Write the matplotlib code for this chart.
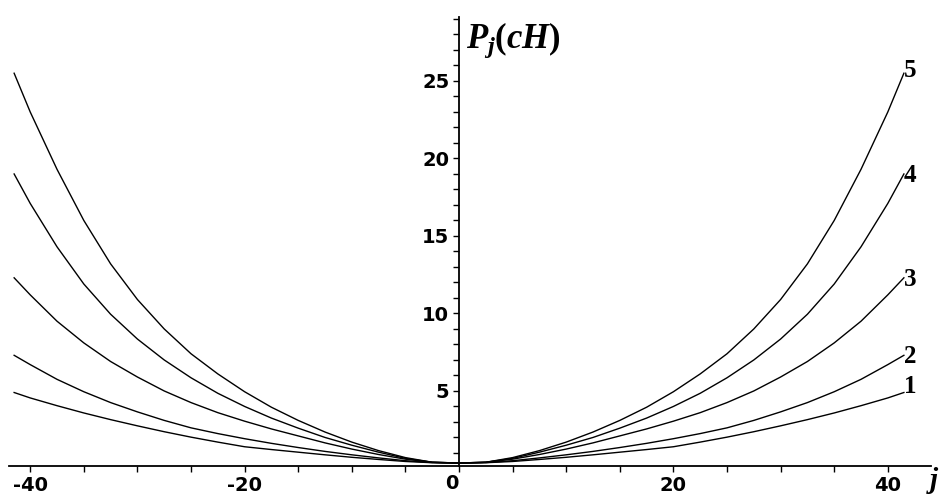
import matplotlib.pyplot as plt
import numpy as np
from matplotlib.ticker import MultipleLocator

plt.rcParams['mathtext.fontset'] = 'custom'
plt.rcParams['mathtext.it'] = 'Liberation Serif:italic:bold'
plt.rcParams['mathtext.rm'] = 'Liberation Serif:bold'

# values (curves are symmetric around j = 0)
j_half = [0, 2.5, 5, 7.5, 10, 12.5, 15, 17.5, 20, 22.5, 25, 27.5, 30, 32.5, 35, 37.5, 40, 41.5]
p1 = [0.35, 0.37, 0.45, 0.58, 0.72, 0.88, 1.05, 1.22, 1.4, 1.7, 2.02, 2.37, 2.75, 3.15, 3.58, 4.05, 4.55, 4.9]
p2 = [0.35, 0.38, 0.5, 0.68, 0.88, 1.1, 1.35, 1.62, 1.92, 2.25, 2.62, 3.1, 3.65, 4.25, 4.95, 5.75, 6.7, 7.3]
p3 = [0.35, 0.4, 0.6, 0.9, 1.25, 1.65, 2.1, 2.55, 3.05, 3.6, 4.25, 5.0, 5.9, 6.9, 8.1, 9.5, 11.2, 12.3]
p4 = [0.35, 0.4, 0.65, 1.05, 1.5, 2.0, 2.6, 3.25, 4.0, 4.85, 5.85, 7.0, 8.35, 9.95, 11.9, 14.3, 17.1, 19.0]
p5 = [0.35, 0.4, 0.7, 1.15, 1.7, 2.35, 3.1, 3.95, 4.95, 6.1, 7.4, 9.0, 10.9, 13.2, 16.0, 19.3, 23.0, 25.5]
curves = [p1, p2, p3, p4, p5]
names = ['1', '2', '3', '4', '5']
label_y = [5.3, 7.2, 12.2, 18.9, 25.7]

xticks = [-40, -20, 0, 20, 40]
yticks = [5, 10, 15, 20, 25]

# mirror the half curves
j = np.concatenate([-np.array(j_half[::-1]), np.array(j_half[1:])])

fig = plt.figure(figsize=(9.44, 4.98), dpi=100)
ax = fig.add_axes([0.0093, 0.064, 0.9766, 0.901])
ax.set_xlim(-42, 44)
ax.set_ylim(0.15, 29.1)

for p, name, ly in zip(curves, names, label_y):
    vals = np.concatenate([np.array(p[::-1]), np.array(p[1:])])
    ax.plot(j, vals, color='black', lw=1.0)
    ax.text(41.5, ly, name, fontsize=18, fontweight='bold', family='Liberation Serif',
            ha='left', va='center')

# axes look
ax.spines['top'].set_visible(False)
ax.spines['right'].set_visible(False)
ax.spines['left'].set_position(('data', 0))
for s in ['left', 'bottom']:
    ax.spines[s].set_linewidth(1.3)

ax.set_xticks(xticks)
ax.set_xticklabels(['-40', '-20', '', '20', '40'])
ax.xaxis.set_minor_locator(MultipleLocator(5))
ax.set_yticks(yticks)
ax.yaxis.set_minor_locator(MultipleLocator(1))
ax.tick_params(which='both', direction='out', length=4, width=1)
ax.tick_params(axis='both', which='major', labelsize=14, pad=3)
for lab in ax.get_xticklabels() + ax.get_yticklabels():
    lab.set_fontweight('bold')
    lab.set_family(['Liberation Sans Narrow', 'DejaVu Sans'])
ax.text(-0.7, -0.018, '0', transform=ax.get_xaxis_transform(), ha='center', va='top',
        fontsize=14, fontweight='bold', family=['Liberation Sans Narrow', 'DejaVu Sans'])

# axis titles
fig.text(466 / 944, 1 - 40 / 498, r'$P_j(cH)$', fontsize=25, ha='left', va='center')
fig.text(933 / 944, 0.004, r'$j$', fontsize=21, ha='center', va='bottom')

fig.savefig('out.png', dpi=100)
